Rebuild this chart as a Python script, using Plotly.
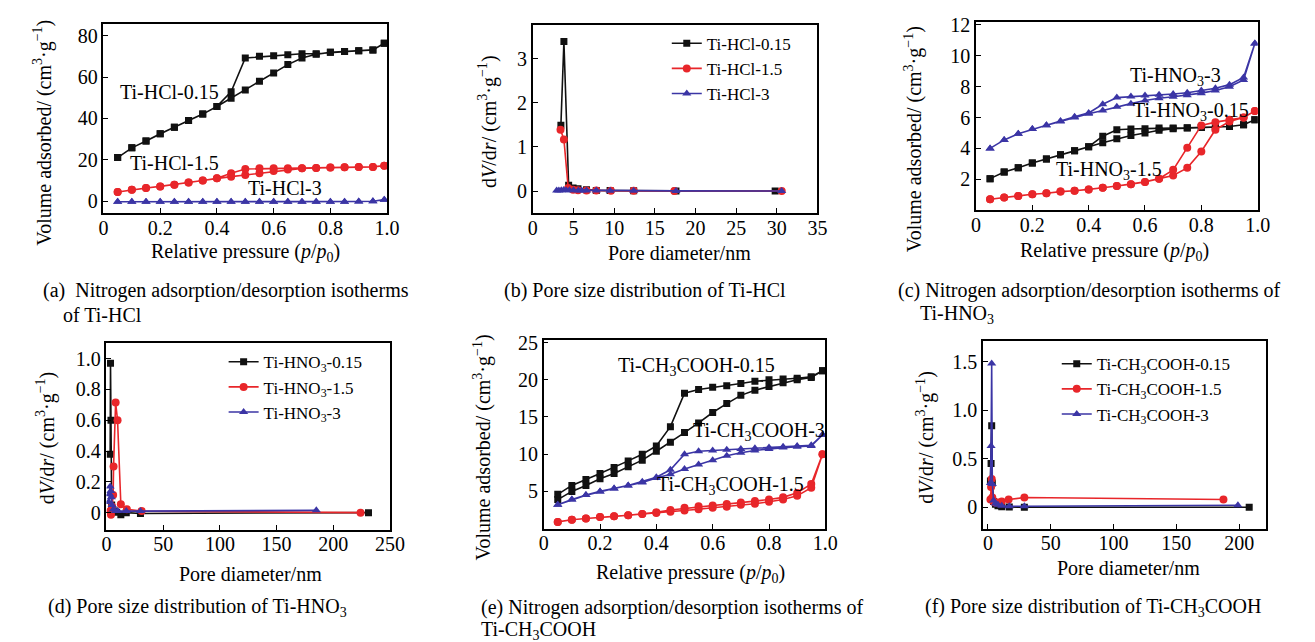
import plotly.graph_objects as go

W, H = 1315, 642

# ---------------- data ----------------
P_REL = [0.05, 0.10, 0.15, 0.20, 0.25, 0.30, 0.35, 0.40, 0.45, 0.50,
         0.55, 0.60, 0.65, 0.70, 0.75, 0.80, 0.85, 0.90, 0.95, 0.99]

# (a) Ti-HCl isotherms (adsorption / desorption, same p order)
hcl_015_ads = [21.1, 25.8, 29.1, 32.6, 35.8, 39.0, 42.1, 45.8, 49.8, 53.7,
               58.0, 62.0, 66.0, 69.2, 71.0, 71.9, 72.3, 72.7, 73.1, 76.3]
hcl_015_des = [21.1, 25.8, 29.1, 32.6, 35.8, 39.0, 42.1, 45.8, 52.9, 69.2,
               70.0, 70.3, 70.7, 71.2, 71.2, 71.9, 72.3, 72.7, 73.1, 76.3]
hcl_15_ads = [4.5, 5.6, 6.4, 7.2, 8.0, 9.1, 10.0, 11.1, 11.9, 12.7,
              13.5, 14.6, 15.3, 15.9, 16.1, 16.3, 16.4, 16.5, 16.6, 17.2]
hcl_15_des = [4.5, 5.6, 6.4, 7.2, 8.0, 9.1, 10.0, 11.1, 13.5, 15.6,
              15.9, 15.9, 15.9, 16.0, 16.1, 16.3, 16.4, 16.5, 16.6, 17.2]
hcl_3_ads = [-0.2, -0.2, -0.2, -0.2, -0.2, -0.2, -0.2, -0.2, -0.2, -0.2,
             -0.2, -0.2, -0.2, -0.2, -0.2, -0.2, -0.2, -0.1, 0.0, 0.8]
hcl_3_des = [-0.2, -0.2, -0.2, -0.2, -0.2, -0.2, -0.2, -0.2, -0.2, -0.2,
             -0.2, -0.2, -0.2, -0.2, -0.2, -0.2, -0.2, -0.1, 0.0, 0.8]

# (b) Ti-HCl pore size distribution
b015_d = [3.45, 3.82, 4.4, 4.95, 5.55, 6.6, 7.8, 9.5, 12.4, 17.6, 29.8]
b015_v = [1.49, 3.39, 0.13, 0.07, 0.05, 0.03, 0.015, 0.01, 0.005, 0.003, 0.002]
b15_d = [3.4, 3.82, 4.35, 4.95, 5.55, 6.6, 7.8, 9.6, 12.4, 17.4, 30.6]
b15_v = [1.39, 1.17, 0.07, 0.03, 0.02, 0.015, 0.01, 0.008, 0.005, 0.003, 0.002]
b3_d = [2.93, 3.2, 3.5, 3.8, 4.1, 4.5, 5.0, 5.6, 6.0, 6.6, 7.8, 9.5, 12.4, 17.6, 30.6]
b3_v = [0.01, 0.015, 0.02, 0.025, 0.02, 0.02, 0.02, 0.015, 0.015, 0.01, 0.01,
        0.008, 0.005, 0.003, 0.002]

# (c) Ti-HNO3 isotherms
hno3_015_ads = [2.04, 2.47, 2.74, 3.06, 3.31, 3.59, 3.84, 4.11, 4.37, 4.62,
                4.83, 5.0, 5.17, 5.28, 5.32, 5.36, 5.38, 5.42, 5.53, 5.85]
hno3_015_des = [2.04, 2.47, 2.74, 3.06, 3.31, 3.59, 3.84, 4.11, 4.79, 5.21,
                5.26, 5.28, 5.32, 5.32, 5.33, 5.36, 5.38, 5.42, 5.53, 5.85]
hno3_15_ads = [0.71, 0.82, 0.92, 1.03, 1.09, 1.2, 1.26, 1.34, 1.45, 1.56,
               1.68, 1.83, 2.04, 2.25, 2.74, 3.8, 5.21, 5.74, 6.0, 6.42]
hno3_15_des = [0.71, 0.82, 0.92, 1.03, 1.09, 1.2, 1.26, 1.34, 1.45, 1.56,
               1.68, 1.83, 2.04, 2.61, 4.05, 5.49, 5.7, 5.85, 6.0, 6.42]
hno3_3_ads = [4.0, 4.55, 4.95, 5.25, 5.5, 5.75, 6.0, 6.25, 6.45, 6.7,
              6.9, 7.1, 7.25, 7.35, 7.45, 7.58, 7.75, 8.0, 8.43, 10.8]
hno3_3_des = [4.0, 4.55, 4.95, 5.25, 5.5, 5.78, 6.05, 6.3, 6.86, 7.29,
              7.37, 7.43, 7.47, 7.52, 7.6, 7.75, 7.9, 8.13, 8.6, 10.8]

# (d) Ti-HNO3 pore size distribution
d015_d = [3.3, 3.6, 4.0, 4.6, 5.5, 7.0, 9.0, 12.7, 17.5, 30.0, 231.0]
d015_v = [0.38, 0.97, 0.60, 0.05, 0.02, 0.01, 0.003, -0.013, 0.0, -0.005, 0.0]
d15_d = [3.5, 4.0, 5.0, 5.9, 6.3, 8.1, 9.8, 12.7, 18.0, 31.0, 224.0]
d15_v = [0.01, -0.013, 0.04, 0.115, 0.30, 0.715, 0.60, 0.055, 0.022, 0.01, 0.0]
d3_d = [2.0, 2.8, 3.3, 3.8, 4.3, 5.0, 6.0, 8.0, 10.0, 17.5, 30.0, 185.0]
d3_v = [0.07, 0.12, 0.17, 0.14, 0.10, 0.05, 0.02, 0.01, 0.01, 0.01, 0.01, 0.015]

# (e) Ti-CH3COOH isotherms
ac_015_ads = [3.9, 5.0, 5.8, 6.7, 7.4, 8.3, 9.2, 10.4, 11.6, 12.9,
              14.2, 15.6, 16.8, 17.9, 18.6, 19.1, 19.6, 20.0, 20.3, 21.2]
ac_015_des = [4.6, 5.8, 6.6, 7.4, 8.2, 9.1, 10.0, 11.1, 13.7, 18.2,
              18.7, 19.0, 19.2, 19.5, 19.8, 20.0, 20.1, 20.2, 20.4, 21.2]
ac_15_ads = [0.9, 1.2, 1.35, 1.55, 1.65, 1.8, 1.95, 2.1, 2.25, 2.45,
             2.6, 2.8, 2.95, 3.2, 3.35, 3.6, 3.9, 4.4, 5.5, 10.0]
ac_15_des = [0.9, 1.2, 1.35, 1.55, 1.65, 1.8, 1.95, 2.2, 2.5, 2.8,
             3.0, 3.1, 3.3, 3.5, 3.7, 3.9, 4.2, 4.8, 6.0, 10.0]
ac_3_ads = [3.2, 3.9, 4.5, 5.0, 5.4, 5.8, 6.2, 6.8, 7.3, 8.0,
            8.6, 9.2, 9.8, 10.2, 10.5, 10.7, 10.9, 11.0, 11.1, 12.6]
ac_3_des = [3.2, 3.9, 4.5, 5.0, 5.4, 5.8, 6.3, 6.9, 7.9, 10.0,
            10.4, 10.5, 10.6, 10.7, 10.8, 10.9, 11.0, 11.1, 11.2, 12.6]

# (f) Ti-CH3COOH pore size distribution
f015_d = [2.0, 2.5, 3.0, 3.5, 4.5, 6.0, 8.0, 11.0, 17.0, 29.0, 208.0]
f015_v = [0.27, 0.45, 0.84, 0.25, 0.06, 0.03, 0.015, 0.005, 0.002, 0.0, 0.0]
f15_d = [2.0, 2.5, 3.0, 3.5, 4.5, 6.0, 8.0, 11.0, 16.5, 29.0, 187.5]
f15_v = [0.08, 0.21, 0.29, 0.10, 0.06, 0.05, 0.05, 0.06, 0.08, 0.10, 0.08]
f3_d = [2.0, 2.5, 3.0, 3.5, 4.5, 6.0, 8.0, 11.0, 17.0, 29.0, 199.0]
f3_v = [0.25, 0.63, 1.48, 0.24, 0.07, 0.04, 0.025, 0.015, 0.01, 0.01, 0.02]

# ---------------- styles ----------------
BLACK, RED, BLUE = "#111111", "#e8262a", "#3b35a5"
SERIF = "Liberation Serif"
STY = {
    "k": dict(color=BLACK, symbol="square", size=7),
    "r": dict(color=RED, symbol="circle", size=8),
    "b": dict(color=BLUE, symbol="triangle-up", size=8),
}


def fx(px):
    return px / W


def fy(py):
    return 1 - py / H


fig = go.Figure()


def loop(n, ads, des, key):
    xs = P_REL + P_REL[::-1]
    ys = ads + des[::-1]
    fig.add_trace(go.Scatter(
        x=xs, y=ys, xaxis=f"x{n}", yaxis=f"y{n}", mode="lines+markers",
        line=dict(color=STY[key]["color"], width=1.6),
        marker=dict(color=STY[key]["color"], symbol=STY[key]["symbol"], size=STY[key]["size"]),
        showlegend=False, hoverinfo="skip"))


def psd(n, d, v, key, name, legend):
    fig.add_trace(go.Scatter(
        x=d, y=v, xaxis=f"x{n}", yaxis=f"y{n}", mode="lines+markers", name=name,
        line=dict(color=STY[key]["color"], width=1.6),
        marker=dict(color=STY[key]["color"], symbol=STY[key]["symbol"], size=STY[key]["size"]),
        showlegend=True, legend=legend))


# (a)
loop(1, hcl_015_ads, hcl_015_des, "k")
loop(1, hcl_15_ads, hcl_15_des, "r")
loop(1, hcl_3_ads, hcl_3_des, "b")
# (b)
psd(2, b015_d, b015_v, "k", "Ti-HCl-0.15", "legend")
psd(2, b15_d, b15_v, "r", "Ti-HCl-1.5", "legend")
psd(2, b3_d, b3_v, "b", "Ti-HCl-3", "legend")
# (c)
loop(3, hno3_015_ads, hno3_015_des, "k")
loop(3, hno3_15_ads, hno3_15_des, "r")
loop(3, hno3_3_ads, hno3_3_des, "b")
# (d)
psd(4, d015_d, d015_v, "k", "Ti-HNO<sub>3</sub>-0.15", "legend2")
psd(4, d15_d, d15_v, "r", "Ti-HNO<sub>3</sub>-1.5", "legend2")
psd(4, d3_d, d3_v, "b", "Ti-HNO<sub>3</sub>-3", "legend2")
# (e)
loop(5, ac_015_ads, ac_015_des, "k")
loop(5, ac_15_ads, ac_15_des, "r")
loop(5, ac_3_ads, ac_3_des, "b")
# (f)
psd(6, f015_d, f015_v, "k", "Ti-CH<sub>3</sub>COOH-0.15", "legend3")
psd(6, f15_d, f15_v, "r", "Ti-CH<sub>3</sub>COOH-1.5", "legend3")
psd(6, f3_d, f3_v, "b", "Ti-CH<sub>3</sub>COOH-3", "legend3")

# ---------------- axes ----------------
TICKFONT = dict(family=SERIF, size=20, color="black")
AX = dict(showline=True, linecolor="black", linewidth=1.5, mirror=True,
          ticks="inside", ticklen=5, tickwidth=1.2, tickcolor="black",
          showgrid=False, zeroline=False, tickfont=TICKFONT, fixedrange=True)

P_TICKS = [0, 0.2, 0.4, 0.6, 0.8, 1.0]
P_TEXT = ["0", "0.2", "0.4", "0.6", "0.8", "1.0"]

panels = {
    1: ((100, 388, 15, 207),
        dict(range=[0, 1.0], tickvals=P_TICKS, ticktext=P_TEXT),
        dict(range=[-5.7, 85.7], tickvals=[0, 20, 40, 60, 80])),
    2: ((536, 825, 16, 207),
        dict(range=[0, 35], tickvals=[0, 5, 10, 15, 20, 25, 30, 35]),
        dict(range=[-0.5, 3.77], tickvals=[0, 1, 2, 3])),
    3: ((986, 1272, 13, 204),
        dict(range=[0, 1.0], tickvals=P_TICKS, ticktext=P_TEXT),
        dict(range=[0, 12.2], tickvals=[2, 4, 6, 8, 10, 12])),
    4: ((103, 391, 339, 528),
        dict(range=[0, 250], tickvals=[0, 50, 100, 150, 200, 250]),
        dict(range=[-0.11, 1.10], tickvals=[0, 0.2, 0.4, 0.6, 0.8, 1.0],
             ticktext=["0", "0.2", "0.4", "0.6", "0.8", "1.0"])),
    5: ((547, 833, 336, 527),
        dict(range=[0, 1.0], tickvals=P_TICKS, ticktext=P_TEXT),
        dict(range=[0, 25.3], tickvals=[5, 10, 15, 20, 25])),
    6: ((993, 1280, 337, 527),
        dict(range=[-4, 221], tickvals=[0, 50, 100, 150, 200]),
        dict(range=[-0.22, 1.71], tickvals=[0, 0.5, 1.0, 1.5],
             ticktext=["0", "0.5", "1.0", "1.5"])),
}

layout_axes = {}
for n, (box, xo, yo) in panels.items():
    x0, x1, y0, y1 = box
    xa = dict(AX, domain=[fx(x0), fx(x1)], anchor=f"y{n}", ticklabelstandoff=-4, **xo)
    ya = dict(AX, domain=[fy(y1), fy(y0)], anchor=f"x{n}", **yo)
    layout_axes["xaxis" if n == 1 else f"xaxis{n}"] = xa
    layout_axes["yaxis" if n == 1 else f"yaxis{n}"] = ya

fig.update_layout(**layout_axes)

# ---------------- text ----------------
ann = []


def text(px, py, s, size=20, xanchor="center", angle=0, yanchor="middle"):
    ann.append(dict(x=fx(px), y=fy(py), xref="paper", yref="paper", text=s,
                    showarrow=False, xanchor=xanchor, yanchor=yanchor,
                    textangle=angle, font=dict(family=SERIF, size=size, color="black")))


VOL = "Volume adsorbed/ (cm<sup>3</sup>·g<sup>−1</sup>)"
DVDR = "d<i>V</i>/d<i>r</i>/ (cm<sup>3</sup>·g<sup>−1</sup>)"
RP = "Relative pressure (<i>p</i>/<i>p</i><sub>0</sub>)"
PD = "Pore diameter/nm"

# y titles
text(38, 125, VOL, angle=-90)
text(490, 115, DVDR, angle=-90)
text(922, 132, VOL, angle=-90)
text(42, 435, DVDR, angle=-90)
text(485, 445, VOL, angle=-90)
text(935, 435, DVDR, angle=-90)
# x titles
text(244, 247, RP)
text(685, 247, PD)
text(1127, 246, RP)
text(249, 573, PD)
text(696, 573, RP)
text(1141, 567, PD)

# in-plot labels
text(115, 84, "Ti-HCl-0.15", xanchor="left")
text(125, 156, "Ti-HCl-1.5", xanchor="left")
text(245, 182, "Ti-HCl-3", xanchor="left")
text(1140, 68, "Ti-HNO<sub>3</sub>-3", xanchor="left")
text(1143, 104, "Ti-HNO<sub>3</sub>-0.15", xanchor="left")
text(1065, 164, "Ti-HNO<sub>3</sub>-1.5", xanchor="left")
text(620, 363, "Ti-CH<sub>3</sub>COOH-0.15", xanchor="left")
text(697, 428, "Ti-CH<sub>3</sub>COOH-3", xanchor="left")
text(660, 483, "Ti-CH<sub>3</sub>COOH-1.5", xanchor="left")

# captions
text(37, 286, "(a)  Nitrogen adsorption/desorption isotherms", xanchor="left")
text(57, 310, "of Ti-HCl", xanchor="left")
text(505, 286, "(b) Pore size distribution of Ti-HCl", xanchor="left")
text(905, 286, "(c) Nitrogen adsorption/desorption isotherms of", xanchor="left")
text(927, 310, "Ti-HNO<sub>3</sub>", xanchor="left")
text(42, 607, "(d) Pore size distribution of Ti-HNO<sub>3</sub>", xanchor="left")
text(481, 607, "(e) Nitrogen adsorption/desorption isotherms of", xanchor="left")
text(481, 630, "Ti-CH<sub>3</sub>COOH", xanchor="left")
text(932, 607, "(f) Pore size distribution of Ti-CH<sub>3</sub>COOH", xanchor="left")

LEG = dict(font=dict(family=SERIF, size=17, color="black"), bgcolor="rgba(0,0,0,0)",
           xanchor="left", yanchor="top", borderwidth=0, tracegroupgap=0)

fig.update_layout(
    width=W, height=H, autosize=False,
    margin=dict(l=0, r=0, t=0, b=0),
    paper_bgcolor="white", plot_bgcolor="white",
    annotations=ann,
    legend=dict(LEG, x=fx(672), y=fy(17)),
    legend2=dict(LEG, x=fx(222), y=fy(340)),
    legend3=dict(LEG, x=fx(1068), y=fy(342)),
)

fig.write_html(
    "out.html",
    config={"displayModeBar": False},
    post_script="document.body.style.margin='0px';document.body.style.overflow='hidden';",
)
